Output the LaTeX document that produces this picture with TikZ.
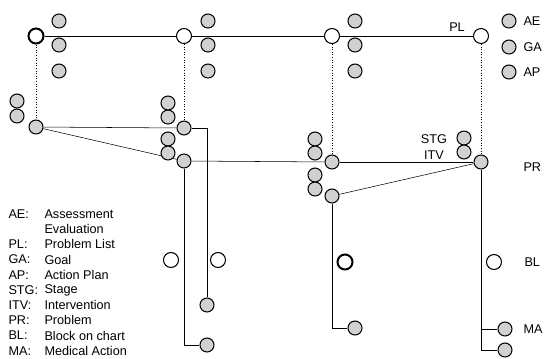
\documentclass[tikz,border=0pt]{standalone}
\usepackage{fontspec}
\setmainfont{Liberation Sans}
\usetikzlibrary{backgrounds}

\tikzset{every picture/.style={line width=0.8pt}}
\tikzset{
  opencirc/.style={circle,draw,fill=white,inner sep=0pt,minimum size=11.25pt},
  boldcirc/.style={opencirc,line width=1.5pt},
  shadecirc/.style={circle,draw,fill=black!18,inner sep=0pt,minimum size=10.5pt},
  lbl/.style={font=\fontsize{9.5}{11}\selectfont,inner sep=0pt},
  dotline/.style={dash pattern=on 0.75pt off 1.2pt}
}

\begin{document}
\begin{tikzpicture}[x=0.75pt,y=0.75pt,yscale=-1,xscale=1]
\useasboundingbox (0,0) rectangle (544,358);

%Problem list row
\node [boldcirc] (pl1) at (36,36) {};
\node [opencirc] (pl2) at (184,36) {};
\node [opencirc] (pl3) at (332,36) {};
\node [opencirc] (pl4) at (481,36) {};
\node [lbl] (pltxt) at (457,27) {PL};

%AE GA AP beside each PL
\node [shadecirc] (ae1) at (59,21) {};
\node [shadecirc] (ga1) at (59,45) {};
\node [shadecirc] (ap1) at (59,71) {};
\node [shadecirc] (ae2) at (208,21) {};
\node [shadecirc] (ga2) at (208,45) {};
\node [shadecirc] (ap2) at (208,71) {};
\node [shadecirc] (ae3) at (355,21) {};
\node [shadecirc] (ga3) at (355,45) {};
\node [shadecirc] (ap3) at (355,71) {};

%Key at top right
\node [shadecirc] (kae) at (509,21) {};
\node [shadecirc] (kga) at (509,47) {};
\node [shadecirc] (kap) at (509,72) {};
\node [lbl,anchor=west] (kaetxt) at (523,21) {AE};
\node [lbl,anchor=west] (kgatxt) at (523,47) {GA};
\node [lbl,anchor=west] (kaptxt) at (523,72) {AP};

%Problem row
\node [shadecirc] (pr1) at (36,127) {};
\node [shadecirc] (s1a) at (17,101) {};
\node [shadecirc] (s1b) at (17,116) {};
\node [shadecirc] (pr2a) at (184,128) {};
\node [shadecirc] (s2a) at (168,103) {};
\node [shadecirc] (s2b) at (168,117) {};
\node [shadecirc] (pr2b) at (184,161) {};
\node [shadecirc] (s2c) at (168,139) {};
\node [shadecirc] (s2d) at (168,153) {};
\node [shadecirc] (pr3a) at (332,162) {};
\node [shadecirc] (s3a) at (315,139) {};
\node [shadecirc] (s3b) at (315,153) {};
\node [shadecirc] (pr3b) at (332,196) {};
\node [shadecirc] (s3c) at (315,175) {};
\node [shadecirc] (s3d) at (315,189) {};
\node [shadecirc] (pr4) at (481,162) {};
\node [shadecirc] (stg) at (464,138) {};
\node [shadecirc] (itv) at (464,152) {};
\node [lbl] (stgtxt) at (434,139) {STG};
\node [lbl] (itvtxt) at (434,155) {ITV};
\node [lbl,anchor=west] (prtxt) at (523,167) {PR};

%Blocks on chart
\node [opencirc] (bl1) at (171,260) {};
\node [opencirc] (bl2) at (218,260) {};
\node [boldcirc] (bl3) at (345,262) {};
\node [opencirc] (bl4) at (494,262) {};
\node [lbl,anchor=west] (bltxt) at (524,262) {BL};

%Medical actions
\node [shadecirc] (ma2a) at (207,305) {};
\node [shadecirc] (ma2b) at (207,345) {};
\node [shadecirc] (ma3) at (355,328) {};
\node [shadecirc] (ma4a) at (505,329) {};
\node [shadecirc] (ma4b) at (505,350) {};
\node [lbl,anchor=west] (matxt) at (523,329) {MA};

%Legend
\node [lbl,anchor=west] (k1) at (8,214) {AE:};
\node [lbl,anchor=west] (d1) at (44,214) {Assessment};
\node [lbl,anchor=west] (d1b) at (44,229.2) {Evaluation};
\node [lbl,anchor=west] (k2) at (8,244.4) {PL:};
\node [lbl,anchor=west] (d2) at (44,244.4) {Problem List};
\node [lbl,anchor=west] (k3) at (8,259.6) {GA:};
\node [lbl,anchor=west] (d3) at (44,259.6) {Goal};
\node [lbl,anchor=west] (k4) at (8,274.8) {AP:};
\node [lbl,anchor=west] (d4) at (44,274.8) {Action Plan};
\node [lbl,anchor=west] (k5) at (8,290) {STG:};
\node [lbl,anchor=west] (d5) at (44,290) {Stage};
\node [lbl,anchor=west] (k6) at (8,305.2) {ITV:};
\node [lbl,anchor=west] (d6) at (44,305.2) {Intervention};
\node [lbl,anchor=west] (k7) at (8,320.4) {PR:};
\node [lbl,anchor=west] (d7) at (44,320.4) {Problem};
\node [lbl,anchor=west] (k8) at (8,335.6) {BL:};
\node [lbl,anchor=west] (d8) at (44,335.6) {Block on chart};
\node [lbl,anchor=west] (k9) at (8,350.8) {MA:};
\node [lbl,anchor=west] (d9) at (44,350.8) {Medical Action};

\begin{scope}[on background layer]
%Straight Lines
\draw (pl1) -- (pl2);
\draw (pl2) -- (pl3);
\draw (pl3) -- (pl4);
%Dotted Lines
\draw [dotline] (pl1) -- (pr1);
\draw [dotline] (pl2) -- (pr2a);
\draw [dotline] (pl3) -- (pr3a);
\draw [dotline] (pl4) -- (pr4);
%Straight Lines
\draw (pr1) -- (pr2a);
\draw (pr1) -- (pr2b);
\draw (pr2b) -- (pr3a);
\draw (pr3a) -- (pr4);
\draw (pr3b) -- (pr4);
\draw (pr2a) -| (ma2a);
\draw (pr2b) |- (ma2b);
\draw (pr3b) |- (ma3);
\draw (pr4) |- (ma4a);
\draw (pr4) |- (ma4b);
\end{scope}

\end{tikzpicture}
\end{document}
